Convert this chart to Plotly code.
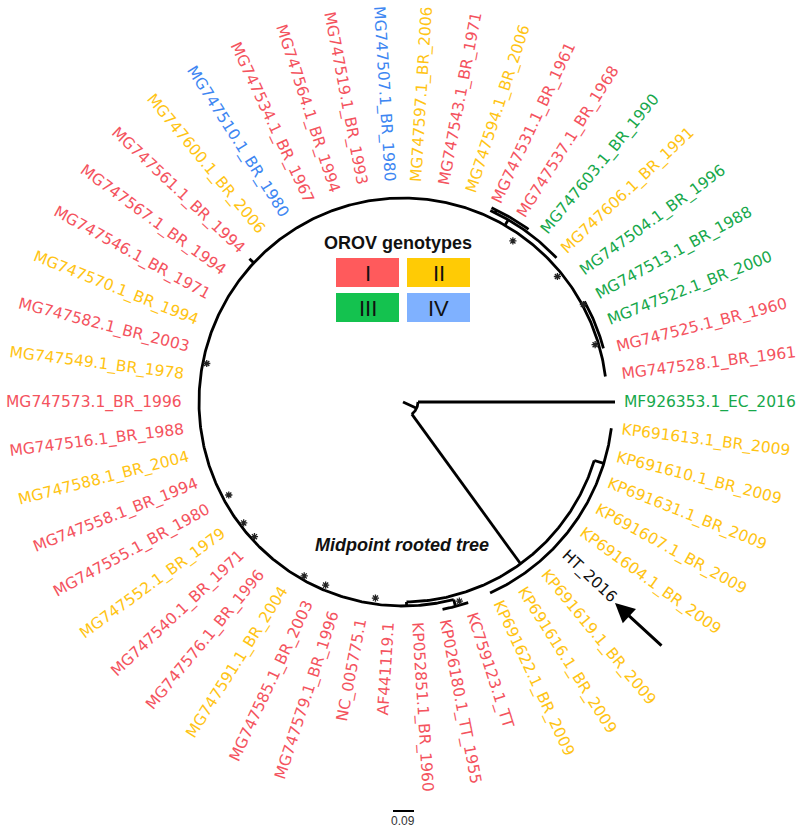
import math
import plotly.graph_objects as go

# ---------------- data ----------------
tip_labels = [
    "MF926353.1_EC_2016", "KP691613.1_BR_2009", "KP691610.1_BR_2009", "KP691631.1_BR_2009",
    "KP691607.1_BR_2009", "KP691604.1_BR_2009", "HT_2016", "KP691619.1_BR_2009",
    "KP691616.1_BR_2009", "KP691622.1_BR_2009", "KC759123.1_TT", "KP026180.1_TT_1955",
    "KP052851.1_BR_1960", "AF441119.1", "NC_005775.1", "MG747579.1_BR_1996",
    "MG747585.1_BR_2003", "MG747591.1_BR_2004", "MG747576.1_BR_1996", "MG747540.1_BR_1971",
    "MG747552.1_BR_1979", "MG747555.1_BR_1980", "MG747558.1_BR_1994", "MG747588.1_BR_2004",
    "MG747516.1_BR_1988", "MG747573.1_BR_1996", "MG747549.1_BR_1978", "MG747582.1_BR_2003",
    "MG747570.1_BR_1994", "MG747546.1_BR_1971", "MG747567.1_BR_1994", "MG747561.1_BR_1994",
    "MG747600.1_BR_2006", "MG747510.1_BR_1980", "MG747534.1_BR_1967", "MG747564.1_BR_1994",
    "MG747519.1_BR_1993", "MG747507.1_BR_1980", "MG747597.1_BR_2006", "MG747543.1_BR_1971",
    "MG747594.1_BR_2006", "MG747531.1_BR_1961", "MG747537.1_BR_1968", "MG747603.1_BR_1990",
    "MG747606.1_BR_1991", "MG747504.1_BR_1996", "MG747513.1_BR_1988", "MG747522.1_BR_2000",
    "MG747525.1_BR_1960", "MG747528.1_BR_1961",
]
tip_genotype = [
    "III", "II", "II", "II", "II", "II", "HT", "II", "II", "II",
    "I", "I", "I", "I", "I", "I", "I", "II", "I", "I",
    "II", "I", "I", "II", "I", "I", "II", "I", "II", "I",
    "I", "I", "II", "IV", "I", "I", "I", "IV", "II", "I",
    "II", "I", "I", "III", "II", "III", "III", "III", "I", "I",
]
genotype_names = ["I", "II", "III", "IV"]

# tree edges (circular layout): arcs = (depth, from_angle, to_angle), radials = (angle, depth0, depth1)
tree_arcs = [
    (15, 0, 54),          # root node
    (200, 17, 89),        # node after long branch
    (210, 7.2, 65.5),     # KP clade
    (204, 75.6, 352.8),   # main clade
    (211, 72, 79.2),      # KC / KP026180 pair
    (210.5, 294.5, 316.8),
    (213.5, 294.5, 306),
    (207.5, 331, 345),
]
tree_radials = [
    (25, 0, 15),      # root edge
    (0, 15, 212),     # MF926353 branch
    (54, 15, 200),    # long branch
    (17, 200, 210),
    (89, 200, 204),
    (75.6, 204, 211),
    (300, 204, 210.5),
    (296, 210.5, 213.5),
    (223, 204, 210),
]
support_angles = [304.3, 320.9, 331.6, 343.4, 191.1, 151.9, 142.8, 137.8, 119.6, 112.9, 98, 74.2]
support_depths = [197, 201, 207, 202.5, 202, 199.5, 202, 202.5, 202, 200.8, 200, 209]
scale_value = "0.09"

# ---------------- styling ----------------
CX, CY = 403, 402
LABEL_R = 221
FS = 15.5
text_colors = {"I": "#F4535E", "II": "#FFC414", "III": "#17A84B", "IV": "#3D86F2", "HT": "#111111"}
box_colors = {"I": "#FF5A5C", "II": "#FFCB05", "III": "#14C24F", "IV": "#7FB1FF"}

CW = {".": 0.318, "_": 0.5, "A": 0.684, "B": 0.686, "C": 0.698, "E": 0.632, "F": 0.575,
      "G": 0.775, "H": 0.752, "K": 0.656, "M": 0.863, "N": 0.748, "P": 0.603, "R": 0.695,
      "T": 0.611}


def text_width(s, fs):
    return sum(CW.get(ch, 0.636) for ch in s) * fs


def pt(r, a):
    t = math.radians(a)
    return CX + r * math.cos(t), CY + r * math.sin(t)


xs, ys = [], []
for r, a0, a1 in tree_arcs:
    n = max(2, int(abs(a1 - a0) * 2))
    for k in range(n + 1):
        x, y = pt(r, a0 + (a1 - a0) * k / n)
        xs.append(x); ys.append(y)
    xs.append(None); ys.append(None)
for a, r0, r1 in tree_radials:
    for r in (r0, r1):
        x, y = pt(r, a)
        xs.append(x); ys.append(y)
    xs.append(None); ys.append(None)

fig = go.Figure()
fig.add_trace(go.Scatter(x=xs, y=ys, mode="lines", line=dict(color="black", width=2.8),
                         hoverinfo="skip"))

sx, sy = [], []
for a, r in zip(support_angles, support_depths):
    x, y = pt(r - 2, a)
    sx.append(x); sy.append(y)
fig.add_trace(go.Scatter(x=sx, y=sy, mode="markers",
                         marker=dict(symbol="asterisk-open", size=6, color="#222",
                                     line=dict(color="#222", width=1.3)),
                         hoverinfo="skip"))

n_tips = len(tip_labels)
annotations = []
for i, (lab, g) in enumerate(zip(tip_labels, tip_genotype)):
    a = i * 360.0 / n_tips
    w = text_width(lab, FS)
    x, y = pt(LABEL_R + w / 2, a)
    if 90 < a < 270:
        ang = a - 180
    elif a >= 270:
        ang = a - 360
    else:
        ang = a
    annotations.append(dict(x=x, y=y, xref="x", yref="y", text=lab, showarrow=False,
                            textangle=ang, xanchor="center", yanchor="middle",
                            font=dict(family="DejaVu Sans", size=FS, color=text_colors[g])))

# legend
annotations.append(dict(x=398, y=243, xref="x", yref="y", text="<b>OROV genotypes</b>",
                        showarrow=False, font=dict(family="Liberation Sans", size=18, color="#111")))
shapes = []
boxes = [(336, 399, 258, 287), (407, 470, 258, 287), (336, 399, 293, 322), (407, 470, 293, 322)]
for gname, (x0, x1, y0, y1) in zip(genotype_names, boxes):
    shapes.append(dict(type="rect", x0=x0, x1=x1, y0=y0, y1=y1, xref="x", yref="y",
                       fillcolor=box_colors[gname], line=dict(width=0)))
    annotations.append(dict(x=(x0 + x1) / 2, y=(y0 + y1) / 2 + 1, xref="x", yref="y", text=gname,
                            showarrow=False,
                            font=dict(family="Liberation Sans", size=22, color="#111")))

annotations.append(dict(x=402, y=545, xref="x", yref="y", text="<b><i>Midpoint rooted tree</i></b>",
                        showarrow=False, font=dict(family="Liberation Sans", size=18, color="#111")))

# arrow to HT_2016
annotations.append(dict(x=615, y=603, ax=663, ay=647, xref="x", yref="y", axref="x", ayref="y",
                        text="", showarrow=True, arrowhead=2, arrowsize=1.3, arrowwidth=3,
                        arrowcolor="black", standoff=0))

# scale bar
shapes.append(dict(type="line", x0=393, x1=414, y0=811, y1=811, xref="x", yref="y",
                   line=dict(color="black", width=2)))
annotations.append(dict(x=403, y=821, xref="x", yref="y", text=scale_value, showarrow=False,
                        font=dict(family="Liberation Sans", size=12, color="#333")))

fig.update_layout(
    width=800, height=828, margin=dict(l=0, r=0, t=0, b=0),
    paper_bgcolor="white", plot_bgcolor="white", showlegend=False,
    xaxis=dict(range=[0, 800], visible=False, fixedrange=True),
    yaxis=dict(range=[828, 0], visible=False, fixedrange=True),
    annotations=annotations, shapes=shapes,
)
fig.write_html("out.html", config={"displayModeBar": False},
               post_script="document.body.style.margin='0';document.body.style.overflow='hidden';")
